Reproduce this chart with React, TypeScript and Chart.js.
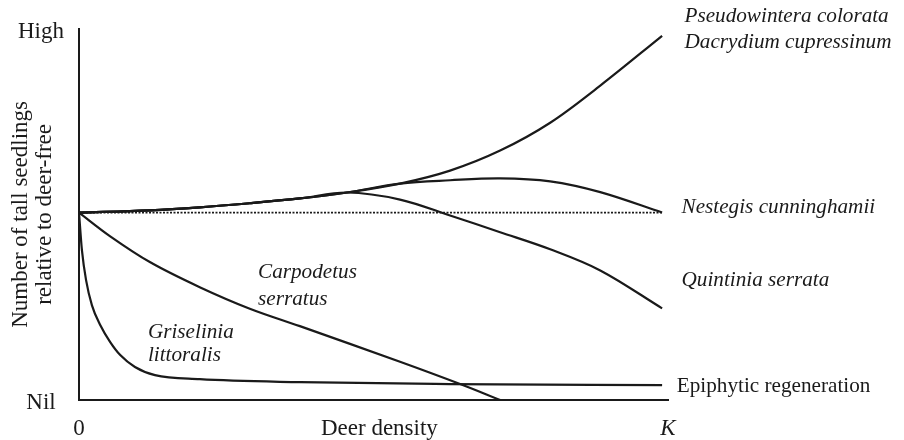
import React, { useEffect, useRef } from "react";
import { Chart, registerables } from "chart.js";

Chart.register(...registerables);

// Deer density (0 → K = 100) and relative number of tall seedlings (Nil = 0 → High = 100)
const pseudoDensity = [0, 12, 20.5, 29, 37.5, 45.5, 54.5, 63, 71.5, 80, 88.5, 99];
const pseudoSeedlings = [50.5, 51.1, 51.9, 53, 54.3, 55.9, 58.3, 61.8, 67.2, 74.7, 84.7, 98.1];

const nestegisDensity = [0, 12, 20.5, 29, 37.5, 45.5, 54.5, 63, 71.5, 80, 88.5, 99];
const nestegisSeedlings = [50.5, 51.1, 51.9, 53, 54.3, 55.9, 58.3, 59.2, 59.7, 58.9, 56.0, 50.5];

const quintiniaDensity = [0, 12, 20.5, 29, 37.5, 45.5, 54.5, 63, 71.5, 80, 88.5, 99];
const quintiniaSeedlings = [50.5, 51.1, 51.9, 53, 54.3, 55.9, 54.0, 49.7, 45.2, 40.6, 34.9, 24.7];

const carpodetusDensity = [0, 5.3, 12.1, 20.5, 29, 37.5, 54.5, 64.7, 71.5];
const carpodetusSeedlings = [50.5, 44.1, 37.1, 30.4, 24.6, 19.9, 10.3, 4.3, 0];

const griseliniaDensity = [0, 0.5, 1.2, 2.2, 3.6, 5.3, 7.0, 9.5, 12.9, 20.5, 37.5, 63, 99];
const griseliniaSeedlings = [50.5, 40.3, 32.3, 25.5, 20.2, 15.6, 12.1, 8.9, 6.7, 5.6, 4.8, 4.3, 4.0];

const deerFreeDensity = [0, 99];
const deerFreeSeedlings = [50.5, 50.5];

const xTickValues = [0, 51, 100];
const xTickLabels = ["0", "Deer density", "K"];
const yTickValues = [0, 100];
const yTickLabels = ["Nil", "High"];
const yTitleLines = ["Number of tall seedlings", "relative to deer-free"];

const curveLabelTexts = [
  "Pseudowintera colorata",
  "Dacrydium cupressinum",
  "Nestegis cunninghamii",
  "Quintinia serrata",
  "Epiphytic regeneration",
  "Carpodetus",
  "serratus",
  "Griselinia",
  "littoralis",
];
// anchor positions for the labels, in data units
const curveLabelX = [102.8, 102.8, 102.3, 102.3, 101.5, 30.4, 30.4, 11.7, 11.7];
const curveLabelY = [103.2, 96.2, 51.9, 32.3, 3.6, 34.4, 27.0, 18.3, 12.1];
const curveLabelItalic = [true, true, true, true, false, true, true, true, true];

const SERIF = "'Liberation Serif', 'Times New Roman', serif";
const INK = "#1a1a1a";

function pts(xs: number[], ys: number[]) {
  return xs.map((x, i) => ({ x, y: ys[i] }));
}

const labelPlugin = {
  id: "curveLabels",
  afterDraw(chart: any) {
    const { ctx, scales } = chart;
    const xs = scales.x;
    const ys = scales.y;
    ctx.save();
    ctx.fillStyle = INK;
    ctx.textAlign = "left";
    ctx.textBaseline = "middle";
    curveLabelTexts.forEach((t, i) => {
      const italic = curveLabelItalic[i];
      ctx.font = `${italic ? "italic " : ""}21.2px ${SERIF}`;
      ctx.fillText(t, xs.getPixelForValue(curveLabelX[i]), ys.getPixelForValue(curveLabelY[i]));
    });
    ctx.restore();
  },
};

export default function App() {
  const ref = useRef<HTMLCanvasElement | null>(null);

  useEffect(() => {
    if (!ref.current) return;
    const line = (xs: number[], ys: number[], extra: any = {}) => ({
      data: pts(xs, ys),
      borderColor: INK,
      borderWidth: 2.2,
      pointRadius: 0,
      fill: false,
      tension: 0.35,
      ...extra,
    });
    const chart = new Chart(ref.current, {
      type: "line",
      data: {
        datasets: [
          line(deerFreeDensity, deerFreeSeedlings, { borderDash: [2, 1.5], borderWidth: 1.8, tension: 0 }),
          line(pseudoDensity, pseudoSeedlings),
          line(nestegisDensity, nestegisSeedlings),
          line(quintiniaDensity, quintiniaSeedlings),
          line(carpodetusDensity, carpodetusSeedlings),
          line(griseliniaDensity, griseliniaSeedlings, { cubicInterpolationMode: "monotone" }),
        ] as any,
      },
      options: {
        responsive: false,
        animation: false,
        layout: { padding: { left: 0, right: 236, top: 28, bottom: 0 } },
        plugins: { legend: { display: false }, tooltip: { enabled: false } },
        scales: {
          x: {
            type: "linear",
            min: 0,
            max: 100,
            grid: { display: false, drawTicks: false },
            border: { display: true, color: INK, width: 2 },
            afterBuildTicks: (axis: any) => {
              axis.ticks = xTickValues.map((v) => ({ value: v }));
            },
            afterFit: (scale: any) => {
              scale.height = 40;
            },
            ticks: {
              autoSkip: false,
              maxRotation: 0,
              minRotation: 0,
              padding: 15,
              color: INK,
              font: (c: any) => ({
                family: SERIF,
                size: 23,
                lineHeight: 1.2,
                style: c.tick && c.tick.value === 100 ? "italic" : "normal",
              }),
              callback: (v: any) => {
                const i = xTickValues.indexOf(Number(v));
                return i >= 0 ? xTickLabels[i] : "";
              },
            },
          },
          y: {
            type: "linear",
            min: 0,
            max: 100,
            grid: { display: false, drawTicks: false },
            border: { display: true, color: INK, width: 2 },
            afterBuildTicks: (axis: any) => {
              axis.ticks = yTickValues.map((v) => ({ value: v }));
            },
            afterFit: (scale: any) => {
              scale.width = 79;
            },
            title: {
              display: true,
              text: yTitleLines,
              color: INK,
              font: { family: SERIF, size: 23, lineHeight: 1.04 },
              padding: { top: 9, bottom: 0 },
            },
            ticks: {
              autoSkip: false,
              crossAlign: "center",
              padding: 15,
              labelOffset: 3,
              color: INK,
              font: { family: SERIF, size: 23 },
              callback: (v: any) => {
                const i = yTickValues.indexOf(Number(v));
                return i >= 0 ? yTickLabels[i] : "";
              },
            },
          },
        },
      } as any,
      plugins: [labelPlugin],
    });
    return () => chart.destroy();
  }, []);

  return (
    <div style={{ position: "fixed", left: 0, top: 0, width: 904, height: 440, background: "#fff" }}>
      <canvas ref={ref} width={904} height={440} />
    </div>
  );
}
